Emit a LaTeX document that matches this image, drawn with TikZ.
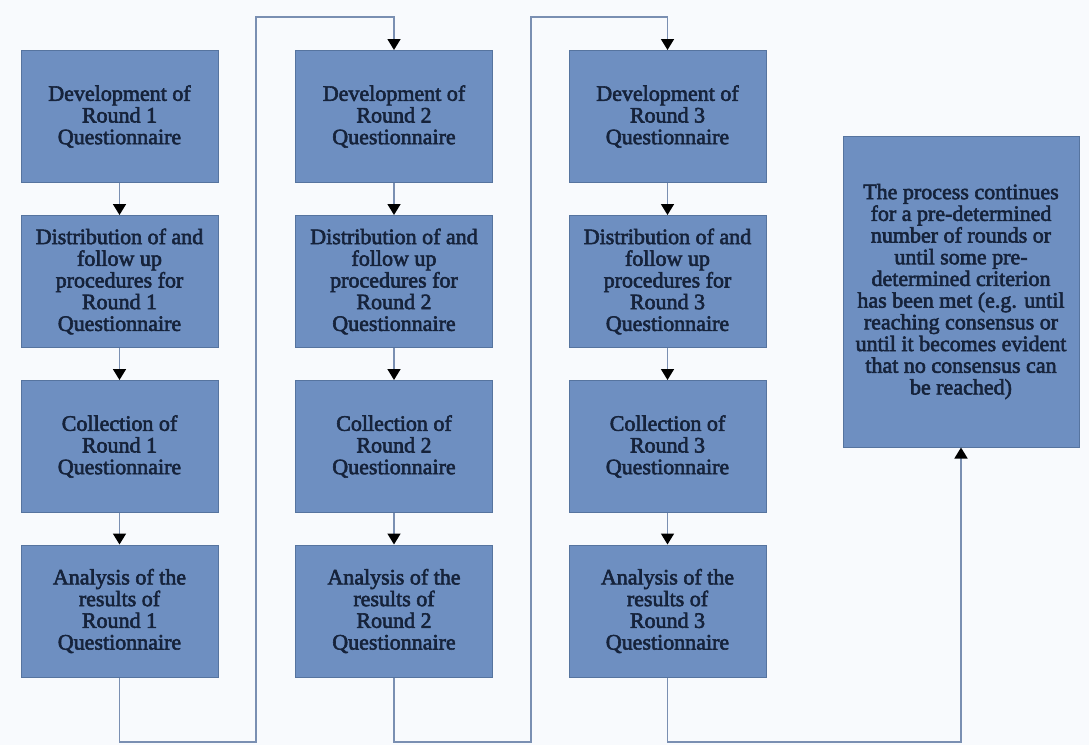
\documentclass[tikz,border=0pt]{standalone}
\usepackage{fontspec}
\setmainfont{Liberation Serif}
\newfontfamily\stagefont{Liberation Serif}[FakeBold=2.6]
\usetikzlibrary{arrows.meta}
\definecolor{boxfill}{HTML}{6E8FC1}
\definecolor{boxedge}{HTML}{56749F}
\definecolor{boxtext}{HTML}{16233B}
\definecolor{wire}{HTML}{7A8FB2}
\definecolor{paper}{HTML}{F8FAFD}
\begin{document}
\begin{tikzpicture}[x=1pt,y=-1pt,
  stage/.style={rectangle, draw=boxedge, line width=1pt, fill=boxfill,
    text=boxtext, minimum width=197pt, minimum height=132pt, inner sep=0pt,
    align=center, font=\stagefont\fontsize{22}{21.7}\selectfont},
  wirelink/.style={draw=wire, line width=1.6pt},
  flow/.style={wirelink, -{Triangle[width=13pt,length=11pt,color=black]}}]
% page
\fill[paper] (0,0) rectangle (1089,745);
\useasboundingbox (0,0) rectangle (1089,745);

% round 1
\node[stage] (a1) at (119.5,116.5) {Development of\\Round 1\\Questionnaire};
\node[stage] (a2) at (119.5,281.5) {Distribution of and\\follow up\\procedures for\\Round 1\\Questionnaire};
\node[stage] (a3) at (119.5,446.5) {Collection of\\Round 1\\Questionnaire};
\node[stage] (a4) at (119.5,611) {Analysis of the\\results of\\Round 1\\Questionnaire};

% round 2
\node[stage] (b1) at (394,116.5) {Development of\\Round 2\\Questionnaire};
\node[stage] (b2) at (394,281.5) {Distribution of and\\follow up\\procedures for\\Round 2\\Questionnaire};
\node[stage] (b3) at (394,446.5) {Collection of\\Round 2\\Questionnaire};
\node[stage] (b4) at (394,611) {Analysis of the\\results of\\Round 2\\Questionnaire};

% round 3
\node[stage] (c1) at (667.5,116.5) {Development of\\Round 3\\Questionnaire};
\node[stage] (c2) at (667.5,281.5) {Distribution of and\\follow up\\procedures for\\Round 3\\Questionnaire};
\node[stage] (c3) at (667.5,446.5) {Collection of\\Round 3\\Questionnaire};
\node[stage] (c4) at (667.5,611) {Analysis of the\\results of\\Round 3\\Questionnaire};

% continuation
\node[stage, minimum width=236pt, minimum height=311pt] (d) at (961,291.5)
  {The process continues\\for a pre-determined\\number of rounds or\\until some pre-\\determined criterion\\has been met (e.g. until\\reaching consensus or\\until it becomes evident\\that no consensus can\\be reached)};

% steps within each round
\foreach \col in {a,b,c}{
  \draw[flow] (\col1.south) -- (\col2.north);
  \draw[flow] (\col2.south) -- (\col3.north);
  \draw[flow] (\col3.south) -- (\col4.north);
}

% links from one round to the next
\coordinate (g1lo) at (256,742);
\coordinate (g1hi) at (256,17);
\coordinate (g2lo) at (531,742);
\coordinate (g2hi) at (531,17);
\coordinate (g3lo) at (800,742);
\draw[flow] (a4.south) |- (g1lo) -- (g1hi) -| (b1.north);
\draw[flow] (b4.south) |- (g2lo) -- (g2hi) -| (c1.north);
\draw[flow] (c4.south) |- (g3lo) -| (d.south);
\end{tikzpicture}
\end{document}
